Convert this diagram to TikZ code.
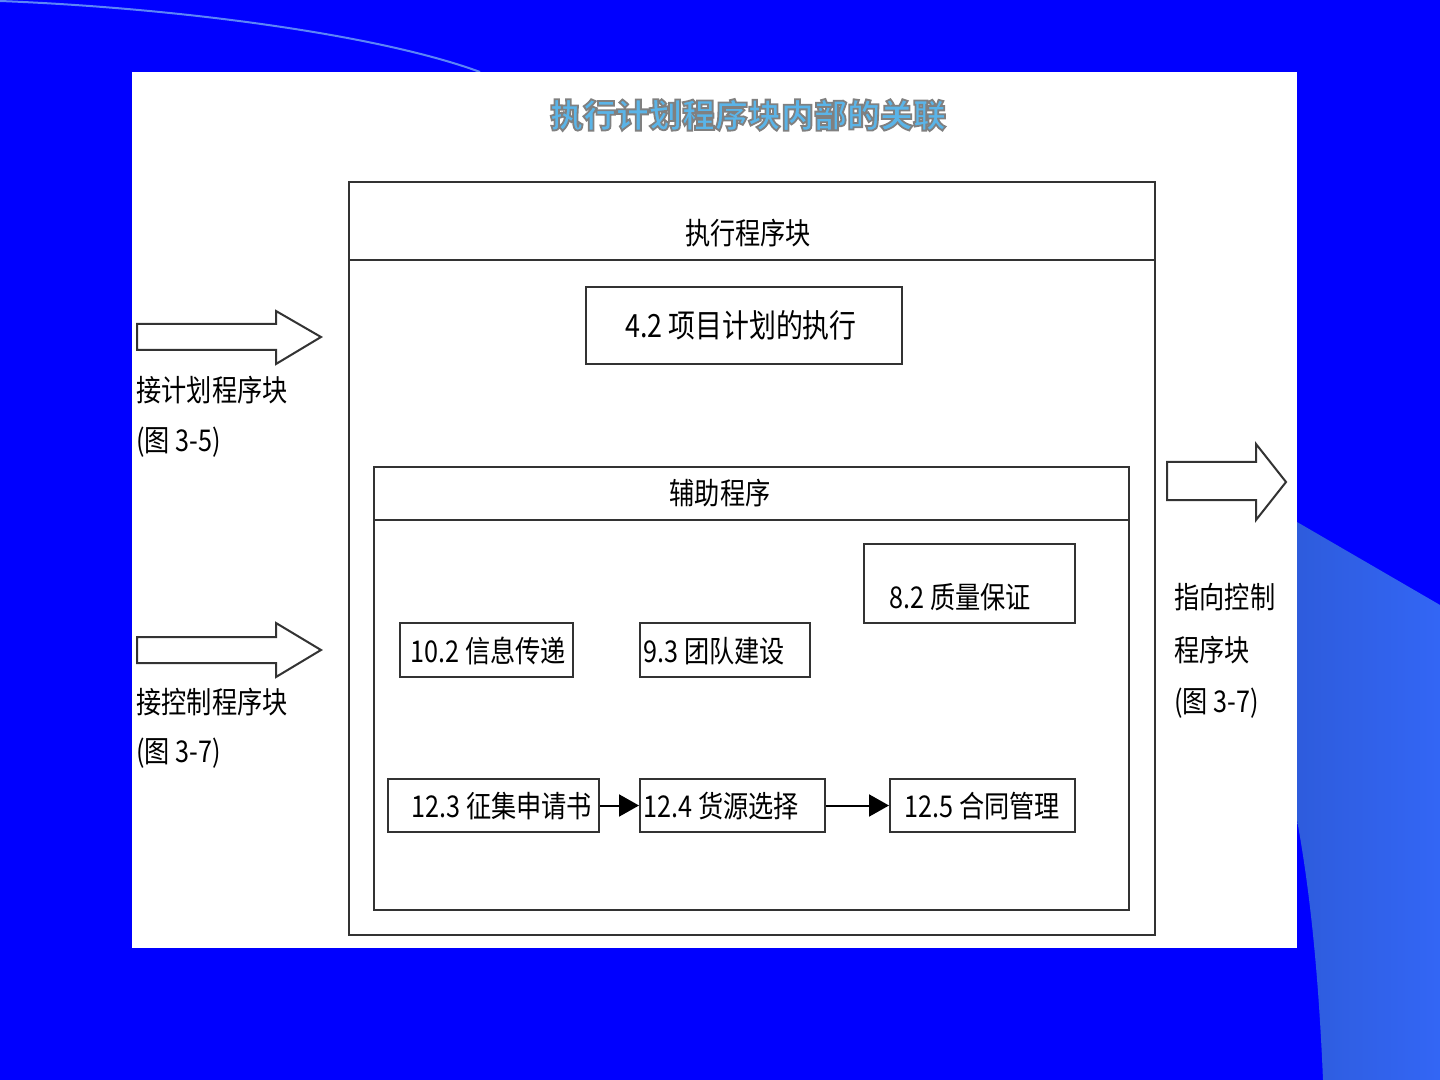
\documentclass[tikz,border=0pt]{standalone}
\usepackage{fontspec}
\usepackage{graphicx}
\newfontfamily\cjk{Noto Sans CJK SC}
\usetikzlibrary{arrows.meta}
\newcommand\nt[1]{\scalebox{0.84}[1]{#1}}
\definecolor{bgblue}{HTML}{0000FF}
\definecolor{lightbg}{HTML}{3366F5}
\definecolor{lineg}{HTML}{333333}
\definecolor{titleblue}{HTML}{5AB4E8}
\tikzset{
  box/.style={draw=lineg, line width=1pt, fill=white, inner sep=0pt},
  lbl/.style={font=\cjk\fontsize{15pt}{18pt}\selectfont, text=black, inner sep=0pt, anchor=west},
  blockarr/.style={draw=lineg, line width=1pt, fill=white, line join=miter},
  conn/.style={draw=black, line width=1pt, -{Triangle[length=10pt,width=11pt]}}
}
\newcommand\titletext{执行计划程序块内部的关联}
\begin{document}
\begin{tikzpicture}[x=0.5pt,y=-0.5pt]
\useasboundingbox (0,0) rectangle (1440,1080);
% background
\fill[bgblue] (0,0) rectangle (1440,1080);
\shade[left color=lightbg!90!black, right color=lightbg] (1297,522) -- (1440,605) -- (1440,1080) -- (1323,1080) .. controls (1318,960) and (1308,880) .. (1297,820) -- cycle;
\draw[color=lightbg!80!white, line width=1pt] (0,1) .. controls (180,8) and (380,35) .. (480,72);
% white panel
\fill[white] (132,72) rectangle (1297,948);
% title, outlined in gray (shadow effect)
\node[font=\cjk\bfseries\fontsize{16.5pt}{20pt}\selectfont, inner sep=0pt] (title) at (748,115)
  {\textcolor{titleblue}{\special{pdf:literal direct 2 Tr 0.9 w 0.5 0.5 0.5 RG}\titletext\special{pdf:literal direct 0 Tr}}};
% outer box
\node[box, minimum width=403pt, minimum height=376.5pt] (outer) at (752,558.5) {};
\draw[lineg, line width=1pt] (349,260) -- (1155,260);
\node[lbl, anchor=center] (outerhead) at (748,233) {\nt{执行程序块}};
% 4.2
\node[box, minimum width=158pt, minimum height=38.5pt] (b42) at (744,325.5) {};
\node[lbl, anchor=center, font=\cjk\fontsize{16pt}{19pt}\selectfont] (t42) at (741,325) {\nt{4.2 项目计划的执行}};
% inner box
\node[box, minimum width=377.5pt, minimum height=221.5pt] (inner) at (751.5,688.5) {};
\draw[lineg, line width=1pt] (374,520) -- (1129,520);
\node[lbl, anchor=center] (innerhead) at (720,493) {\nt{辅助程序}};
% small boxes
\node[box, minimum width=105.5pt, minimum height=39.5pt] (b82) at (969.5,583.5) {};
\node[lbl] (t82) at (889,597) {\nt{8.2 质量保证}};
\node[box, minimum width=86.5pt, minimum height=27pt] (b102) at (486.5,650) {};
\node[lbl] (t102) at (410,651) {\nt{10.2 信息传递}};
\node[box, minimum width=85pt, minimum height=27pt] (b93) at (725,650) {};
\node[lbl] (t93) at (643,651) {\nt{9.3 团队建设}};
\node[box, minimum width=105.5pt, minimum height=26.5pt] (b123) at (493.5,805.5) {};
\node[lbl] (t123) at (411,806) {\nt{12.3 征集申请书}};
\node[box, minimum width=92.5pt, minimum height=26.5pt] (b124) at (732.5,805.5) {};
\node[lbl] (t124) at (643,806) {\nt{12.4 货源选择}};
\node[box, minimum width=92.5pt, minimum height=26.5pt] (b125) at (982.5,805.5) {};
\node[lbl] (t125) at (904,806) {\nt{12.5 合同管理}};
% connectors
\draw[conn] (b123) -- (b124);
\draw[conn] (b124) -- (b125);
% block arrows
\draw[blockarr] (137,324) -- (276,324) -- (276,311) -- (321,337) -- (276,364) -- (276,350) -- (137,350) -- cycle;
\draw[blockarr] (137,637) -- (276,637) -- (276,623) -- (321,650) -- (276,677) -- (276,663) -- (137,663) -- cycle;
\draw[blockarr] (1167,462) -- (1256,462) -- (1256,444) -- (1286,482) -- (1256,520) -- (1256,500) -- (1167,500) -- cycle;
% side labels
\node[lbl] (l1a) at (136,390) {\nt{接计划程序块}};
\node[lbl] (l1b) at (136,442) {\nt{(图 3-5)}};
\node[lbl] (l2a) at (136,702) {\nt{接控制程序块}};
\node[lbl] (l2b) at (136,753) {\nt{(图 3-7)}};
\node[lbl] (r1) at (1174,597) {\nt{指向控制}};
\node[lbl] (r2) at (1174,650) {\nt{程序块}};
\node[lbl] (r3) at (1174,703) {\nt{(图 3-7)}};
\end{tikzpicture}
\end{document}
